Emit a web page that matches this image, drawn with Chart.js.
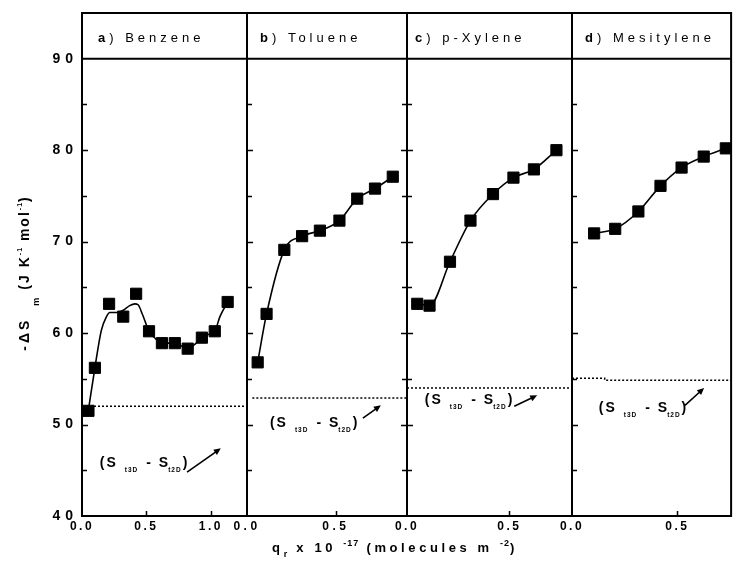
<!DOCTYPE html>
<html>
<head>
<meta charset="utf-8">
<title>Adsorption entropy of aromatics</title>
<script src="https://cdn.jsdelivr.net/npm/chart.js@4.4.1/dist/chart.umd.min.js"></script>
<style>
  html, body { margin: 0; padding: 0; background: #fff; }
  #stage { position: relative; width: 740px; height: 579px; overflow: hidden; }
  #stage canvas { position: absolute; left: 0; top: 0; }
</style>
</head>
<body>
<div id="stage"></div>
<script>
const FONT = '"Liberation Sans", Arial, Helvetica, sans-serif';

// Coverage q_r (10^17 molecules m^-2) against -ΔS_m (J K^-1 mol^-1)
const benzeneQ = [0.05, 0.10, 0.21, 0.32, 0.42, 0.52, 0.62, 0.72, 0.82, 0.93, 1.03, 1.13];
const benzeneS = [51.5, 56.2, 63.2, 61.8, 64.3, 60.2, 58.9, 58.9, 58.3, 59.5, 60.2, 63.4];
// smoothed trend line for benzene
const benzeneFitQ = [0.05, 0.10, 0.15, 0.19, 0.215, 0.27, 0.32, 0.37, 0.41, 0.435, 0.47, 0.52, 0.57, 0.62, 0.72, 0.82, 0.87, 0.93, 0.97, 1.03, 1.07, 1.13];
const benzeneFitS = [51.6, 56.2, 60.3, 61.8, 62.25, 62.25, 62.5, 63.0, 63.2, 63.1, 62.0, 60.2, 59.4, 58.9, 58.9, 58.3, 58.7, 59.5, 59.8, 60.2, 61.8, 63.4];

const tolueneQ = [0.06, 0.11, 0.21, 0.31, 0.41, 0.52, 0.62, 0.72, 0.82];
const tolueneS = [56.8, 62.1, 69.1, 70.6, 71.2, 72.3, 74.7, 75.8, 77.1];

const xyleneQ = [0.05, 0.11, 0.21, 0.31, 0.42, 0.52, 0.62, 0.73];
const xyleneS = [63.2, 63.0, 67.8, 72.3, 75.2, 77.0, 77.9, 80.0];

const mesityleneQ = [0.105, 0.205, 0.315, 0.42, 0.52, 0.625, 0.73];
const mesityleneS = [70.9, 71.4, 73.3, 76.1, 78.1, 79.3, 80.2];

// (S_t3D - S_t2D) reference levels, one dotted trace per adsorbate
const benzeneLimitQ = [0, 1.28];
const benzeneLimitS = [52.0, 52.0];
const tolueneLimitQ = [0.03, 0.9];
const tolueneLimitS = [52.9, 52.9];
const xyleneLimitQ = [0, 0.806];
const xyleneLimitS = [54.0, 54.0];
const mesityleneLimitQ = [0, 0.155, 0.155, 0.755];
const mesityleneLimitS = [55.05, 55.05, 54.85, 54.85];

const panelLetters = ['a', 'b', 'c', 'd'];
const panelNames = ['Benzene', 'Toluene', 'p-Xylene', 'Mesitylene'];
const qAxisMax = [1.28, 0.9, 0.806, 0.755];
const sAxisMin = 40, sAxisMax = 95, sBoxLine = 90;

// page geometry of the four frames
const frameLeft = [82, 247, 407, 572];
const frameRight = [247, 407, 572, 738];
const frameTop = 13, frameBottom = 516;
const xAxisBand = 22, yAxisBand = 50;
const titleInset = [16, 13, 8, 13];
const qLabelSpacing = [2.5, 3.5, 2.5, 2.5];
// annotation anchors in data units: label start, arrow tail, arrow head
const noteAt = [
  { q: 0.138, s: 45.4, from: [0.815, 44.8], to: [1.077, 47.4] },
  { q: 0.129, s: 49.7, from: [0.652, 50.7], to: [0.753, 52.1] },
  { q: 0.087, s: 52.2, from: [0.524, 52.0], to: [0.636, 53.2] },
  { q: 0.127, s: 51.4, from: [0.536, 52.1], to: [0.627, 54.0] }
];

const panels = [
  { q: benzeneQ, s: benzeneS, lineQ: benzeneFitQ, lineS: benzeneFitS, limQ: benzeneLimitQ, limS: benzeneLimitS },
  { q: tolueneQ, s: tolueneS, lineQ: tolueneQ, lineS: tolueneS, limQ: tolueneLimitQ, limS: tolueneLimitS },
  { q: xyleneQ, s: xyleneS, lineQ: xyleneQ, lineS: xyleneS, limQ: xyleneLimitQ, limS: xyleneLimitS },
  { q: mesityleneQ, s: mesityleneS, lineQ: mesityleneQ, lineS: mesityleneS, limQ: mesityleneLimitQ, limS: mesityleneLimitS }
];

const pts = (xs, ys) => xs.map((x, k) => ({ x, y: ys[k] }));

function fontOf(seg) {
  return (seg.bold ? 'bold ' : '') + seg.size + 'px ' + FONT;
}
function richWidth(ctx, segs, sp) {
  let w = 0;
  for (const s of segs) {
    ctx.font = fontOf(s);
    ctx.letterSpacing = (s.sp != null ? s.sp : sp) + 'px';
    w += (s.dx || 0) + ctx.measureText(s.t).width;
  }
  return w;
}
// draws a run of text pieces with sub/superscript offsets
function drawRich(ctx, segs, x, y, sp, align) {
  ctx.save();
  ctx.fillStyle = '#000';
  ctx.textAlign = 'left';
  ctx.textBaseline = 'alphabetic';
  let cx = align === 'center' ? x - richWidth(ctx, segs, sp) / 2 : x;
  for (const s of segs) {
    ctx.font = fontOf(s);
    ctx.letterSpacing = (s.sp != null ? s.sp : sp) + 'px';
    cx += s.dx || 0;
    ctx.fillText(s.t, cx, y + (s.dy || 0));
    cx += ctx.measureText(s.t).width;
  }
  ctx.restore();
}

function arrow(ctx, x0, y0, x1, y1) {
  const ang = Math.atan2(y1 - y0, x1 - x0), L = 7, W = 3.2;
  ctx.save();
  ctx.strokeStyle = '#000'; ctx.fillStyle = '#000'; ctx.lineWidth = 1.6; ctx.setLineDash([]);
  ctx.beginPath();
  ctx.moveTo(x0, y0);
  ctx.lineTo(x1 - L * 0.8 * Math.cos(ang), y1 - L * 0.8 * Math.sin(ang));
  ctx.stroke();
  ctx.beginPath();
  ctx.moveTo(x1, y1);
  ctx.lineTo(x1 - L * Math.cos(ang) + W * Math.sin(ang), y1 - L * Math.sin(ang) - W * Math.cos(ang));
  ctx.lineTo(x1 - L * Math.cos(ang) - W * Math.sin(ang), y1 - L * Math.sin(ang) + W * Math.cos(ang));
  ctx.closePath();
  ctx.fill();
  ctx.restore();
}

// letter spacing for tick labels, applied per axis
const labelSpacing = {
  id: 'labelSpacing',
  afterLayout(chart, args, opts) {
    for (const id of Object.keys(chart.scales)) {
      const sc = chart.scales[id];
      if (sc.__spaced) continue;
      const orig = sc.drawLabels;
      const sp = (opts[id] || 0) + 'px';
      sc.drawLabels = function (area) {
        const c = this.ctx, prev = c.letterSpacing;
        c.letterSpacing = sp;
        orig.call(this, area);
        c.letterSpacing = prev;
      };
      sc.__spaced = true;
    }
  }
};

// frame, inward ticks, title box, panel title and the (S_t3D - S_t2D) note
const framePlugin = {
  id: 'frame',
  afterDraw(chart, args, o) {
    const { ctx, chartArea: a, scales: { x, y } } = chart;
    const i = o.index;
    ctx.save();
    ctx.strokeStyle = '#000';
    ctx.lineWidth = 2;
    ctx.setLineDash([]);
    ctx.strokeRect(a.left, a.top, a.right - a.left, a.bottom - a.top);
    const yb = y.getPixelForValue(sBoxLine);
    ctx.beginPath(); ctx.moveTo(a.left, yb); ctx.lineTo(a.right, yb); ctx.stroke();

    ctx.lineWidth = 1.5;
    ctx.beginPath();
    for (let v = sAxisMin + 5; v < sBoxLine; v += 5) {
      const py = Math.round(y.getPixelForValue(v)) + 0.5;
      const len = v % 10 === 0 ? 6 : 5;
      ctx.moveTo(a.left, py); ctx.lineTo(a.left + len, py);
      if (o.rightTicks) { ctx.moveTo(a.right, py); ctx.lineTo(a.right - len, py); }
    }
    for (let v = 0.5; v < qAxisMax[i]; v += 0.5) {
      const px = Math.round(x.getPixelForValue(v)) + 0.5;
      ctx.moveTo(px, a.bottom); ctx.lineTo(px, a.bottom - 5);
    }
    ctx.stroke();
    ctx.restore();

    drawRich(ctx, [
      { t: panelLetters[i], size: 13, bold: true },
      { t: ') ' + panelNames[i], size: 13, bold: false }
    ], a.left + titleInset[i], 42, 4, 'left');

    const n = noteAt[i];
    drawRich(ctx, [
      { t: '(S', size: 14, bold: true },
      { t: 't3D', size: 6.5, bold: true, dy: 5, dx: 7, sp: 1 },
      { t: '- S', size: 14, bold: true, dx: 8 },
      { t: 't2D', size: 6.5, bold: true, dy: 5, dx: -2, sp: 1 },
      { t: ')', size: 14, bold: true, dx: 1 }
    ], x.getPixelForValue(n.q), y.getPixelForValue(n.s), 2, 'left');
    arrow(ctx, x.getPixelForValue(n.from[0]), y.getPixelForValue(n.from[1]),
               x.getPixelForValue(n.to[0]), y.getPixelForValue(n.to[1]));

    if (o.axisTitles) {
      drawRich(ctx, [
        { t: 'q', size: 13, bold: true },
        { t: 'r', size: 9, bold: true, dy: 5, sp: 2 },
        { t: ' x 10 ', size: 13, bold: true },
        { t: '-17', size: 9, bold: true, dy: -6, sp: 1 },
        { t: ' (molecules m ', size: 13, bold: true },
        { t: '-2', size: 9, bold: true, dy: -6, sp: 1 },
        { t: ')', size: 13, bold: true }
      ], 395, 552, 3.6, 'center');

      ctx.save();
      ctx.translate(29, 273);
      ctx.rotate(-Math.PI / 2);
      drawRich(ctx, [
        { t: '-ΔS', size: 14, bold: true, sp: 3 },
        { t: 'm', size: 9, bold: true, dy: 10, dx: 12 },
        { t: '(J K', size: 14, bold: true, dx: 6 },
        { t: '-1', size: 7, bold: true, dy: -7, sp: 1 },
        { t: ' mol', size: 14, bold: true },
        { t: '-1', size: 7, bold: true, dy: -7, sp: 1 },
        { t: ')', size: 14, bold: true }
      ], 0, 0, 2, 'center');
      ctx.restore();
    }
  }
};

const stage = document.getElementById('stage');

panels.forEach((p, i) => {
  const canvas = document.createElement('canvas');
  canvas.width = 740;
  canvas.height = 579;
  stage.appendChild(canvas);
  const showS = i === 0;

  new Chart(canvas, {
    type: 'scatter',
    data: {
      datasets: [
        {
          data: pts(p.q, p.s),
          showLine: false,
          pointStyle: 'rect',
          pointRadius: 7.9,
          backgroundColor: '#000',
          borderColor: '#000',
          borderWidth: 1,
          clip: false,
          order: 0
        },
        {
          data: pts(p.lineQ, p.lineS),
          showLine: true,
          pointRadius: 0,
          borderColor: '#000',
          borderWidth: 1.6,
          cubicInterpolationMode: 'monotone',
          order: 1
        },
        {
          data: pts(p.limQ, p.limS),
          showLine: true,
          pointRadius: 0,
          borderColor: '#000',
          borderWidth: 1.5,
          borderDash: [2, 2],
          order: 2
        }
      ]
    },
    options: {
      responsive: false,
      animation: false,
      devicePixelRatio: 1,
      events: [],
      layout: {
        padding: {
          left: showS ? frameLeft[i] - yAxisBand : frameLeft[i],
          right: 740 - frameRight[i],
          top: frameTop,
          bottom: 579 - frameBottom - xAxisBand
        }
      },
      plugins: {
        legend: { display: false },
        tooltip: { enabled: false },
        labelSpacing: { x: qLabelSpacing[i], y: 5 },
        frame: { index: i, rightTicks: i === 1, axisTitles: i === 0 }
      },
      scales: {
        x: {
          type: 'linear',
          position: 'bottom',
          min: 0,
          max: qAxisMax[i],
          afterFit: s => { s.height = xAxisBand; },
          grid: { display: false, drawTicks: false },
          border: { display: false },
          ticks: {
            stepSize: 0.5,
            includeBounds: false,
            autoSkip: false,
            maxRotation: 0,
            padding: 3,
            color: '#000',
            font: { family: FONT, size: 12, weight: 'bold' },
            callback: v => Number(v).toFixed(1)
          }
        },
        y: {
          type: 'linear',
          position: 'left',
          display: showS,
          min: sAxisMin,
          max: sAxisMax,
          afterFit: s => { s.width = showS ? yAxisBand : 0; },
          grid: { display: false, drawTicks: false },
          border: { display: false },
          ticks: {
            stepSize: 5,
            includeBounds: false,
            autoSkip: false,
            padding: 4,
            color: '#000',
            font: { family: FONT, size: 14, weight: 'bold' },
            callback: v => (v % 10 === 0 && v <= sBoxLine) ? String(v) : ''
          }
        }
      }
    },
    plugins: [labelSpacing, framePlugin]
  });
});
</script>
</body>
</html>
